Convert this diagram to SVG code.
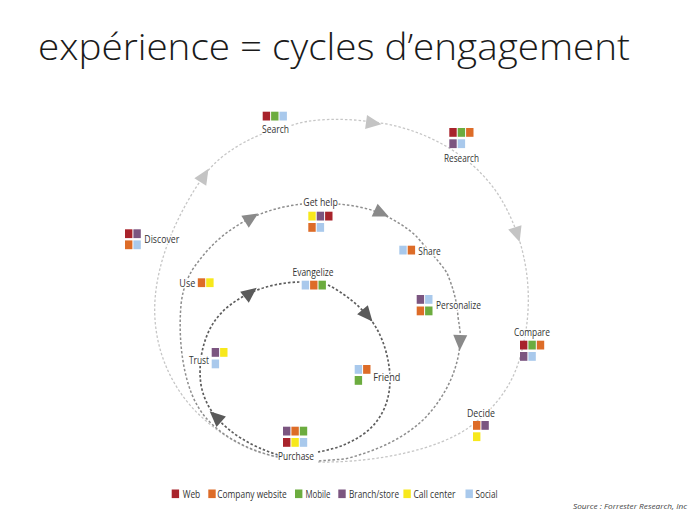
<svg xmlns="http://www.w3.org/2000/svg" xmlns:xlink="http://www.w3.org/1999/xlink" width="689" height="517" viewBox="0 0 689 517">
<style>
.title{font-family:"Open Sans","Liberation Sans",sans-serif;font-weight:300;font-size:37px;fill:#1a1a1a}
.lbl{font-family:"Open Sans","Liberation Sans",sans-serif;font-size:11px;fill:#333;stroke:#fff;stroke-width:3px;paint-order:stroke;stroke-linejoin:round}
.leg{font-family:"Open Sans","Liberation Sans",sans-serif;font-size:10.5px;fill:#333}
.src{font-family:"Open Sans","Liberation Sans",sans-serif;font-size:7.5px;font-style:italic;fill:#444}
.outer{fill:none;stroke:#c6c6c6;stroke-width:1.3;stroke-dasharray:2.5 2}
.middle{fill:none;stroke:#8e8e8e;stroke-width:1.5;stroke-dasharray:2.5 2}
.inner{fill:none;stroke:#5e5e5e;stroke-width:1.7;stroke-dasharray:2.5 2}
.ao{fill:#c4c4c4}.am{fill:#8a8a8a}.ai{fill:#5a5a5a}
.w{fill:#a8232b}.c{fill:#dd6c28}.m{fill:#6cac3f}.b{fill:#7b5580}.y{fill:#f7e81c}.s{fill:#a9c9ec}
</style>
<defs>
<path id="ah" d="M8.5,0 L-7,-7 L-7,7 Z"/>
<rect id="sq" width="7.4" height="8.8"/>
</defs>
<rect width="689" height="517" fill="#fff"/>
<text class="title" x="38" y="60" textLength="592" lengthAdjust="spacingAndGlyphs">expérience = cycles d’engagement</text>

<g id="connectors">
<path class="outer" d="M318,462 C380,463 440,448 468,428 C500,405 515,380 522,350 C532,310 530,270 517,233 C505,200 490,180 470,163 C445,142 410,126 373,122 C345,118 310,118 290,126 M262,134 C235,145 215,160 203,177 C180,210 158,255 155,300 C152,345 170,390 205,420 C230,442 255,453 278,457"/>
<path class="middle" d="M278,457 C245,450 212,432 197,405 C183,380 178,340 181,305 C183,285 190,272 198,262 C212,243 230,228 251,218 C268,210 285,206 302,204 M338,204 C352,205 367,208 380,213 C395,220 408,228 417,237 C428,250 440,262 447,273 C452,285 457,300 458,317 C460,330 461,336 460,342 C459,365 448,395 423,420 C405,437 380,450 345,459 L318,461"/>
<path class="inner" d="M328,285 C342,292 355,302 367,315 C380,330 388,350 390,375 C391,400 382,420 365,433 C350,444 335,449 318,452 M278,455 C250,446 230,433 217,418 C210,410 204,400 201,385 C198,365 202,340 214,322 C222,310 235,300 250,293 C265,286 285,282 300,282"/>
<use xlink:href="#ah" class="ao" transform="translate(373,123) rotate(8)"/>
<use xlink:href="#ah" class="ao" transform="translate(517,234) rotate(72)"/>
<use xlink:href="#ah" class="ao" transform="translate(204,176) rotate(-58)"/>
<use xlink:href="#ah" class="am" transform="translate(251,218) rotate(-32)"/>
<use xlink:href="#ah" class="am" transform="translate(381,213) rotate(25)"/>
<use xlink:href="#ah" class="am" transform="translate(460,342) rotate(92)"/>
<use xlink:href="#ah" class="ai" transform="translate(250,293) rotate(-38)"/>
<use xlink:href="#ah" class="ai" transform="translate(367,315) rotate(50)"/>
<use xlink:href="#ah" class="ai" transform="translate(216,417) rotate(-138)"/>
</g>

<g id="search">
<use xlink:href="#sq" class="w" x="262.7" y="111.7"/><use xlink:href="#sq" class="m" x="271.1" y="111.7"/><use xlink:href="#sq" class="s" x="279.5" y="111.7"/>
<text class="lbl" x="262" y="133" textLength="27" lengthAdjust="spacingAndGlyphs">Search</text>
</g>
<g id="research">
<use xlink:href="#sq" class="w" x="449.3" y="128"/><use xlink:href="#sq" class="m" x="457.7" y="128"/><use xlink:href="#sq" class="c" x="466.1" y="128"/>
<use xlink:href="#sq" class="b" x="449.3" y="139.3"/><use xlink:href="#sq" class="s" x="457.7" y="139.3"/>
<text class="lbl" x="444" y="161.5" textLength="35" lengthAdjust="spacingAndGlyphs">Research</text>
</g>
<g id="gethelp">
<text class="lbl" x="303.3" y="206" textLength="34.5" lengthAdjust="spacingAndGlyphs">Get help</text>
<use xlink:href="#sq" class="y" x="308.3" y="211.7"/><use xlink:href="#sq" class="b" x="316.7" y="211.7"/><use xlink:href="#sq" class="w" x="325.1" y="211.7"/>
<use xlink:href="#sq" class="c" x="308.3" y="223"/><use xlink:href="#sq" class="s" x="316.7" y="223"/>
</g>
<g id="discover">
<use xlink:href="#sq" class="w" x="125" y="229.3"/><use xlink:href="#sq" class="b" x="133.4" y="229.3"/>
<use xlink:href="#sq" class="c" x="125" y="240.4"/><use xlink:href="#sq" class="s" x="133.4" y="240.4"/>
<text class="lbl" x="144.3" y="242.5" textLength="35" lengthAdjust="spacingAndGlyphs">Discover</text>
</g>
<g id="share">
<use xlink:href="#sq" class="s" x="399.3" y="245.7"/><use xlink:href="#sq" class="c" x="407.7" y="245.7"/>
<text class="lbl" x="418.3" y="254.5" textLength="22.5" lengthAdjust="spacingAndGlyphs">Share</text>
</g>
<g id="use">
<text class="lbl" x="179.3" y="287" textLength="16" lengthAdjust="spacingAndGlyphs">Use</text>
<use xlink:href="#sq" class="c" x="197.8" y="278.3"/><use xlink:href="#sq" class="y" x="206.2" y="278.3"/>
</g>
<g id="evangelize">
<text class="lbl" x="292.5" y="276" textLength="41" lengthAdjust="spacingAndGlyphs">Evangelize</text>
<use xlink:href="#sq" class="s" x="301.7" y="280.7"/><use xlink:href="#sq" class="c" x="310.1" y="280.7"/><use xlink:href="#sq" class="m" x="318.5" y="280.7"/>
</g>
<g id="personalize">
<use xlink:href="#sq" class="b" x="416.7" y="295"/><use xlink:href="#sq" class="s" x="425.1" y="295"/>
<use xlink:href="#sq" class="c" x="416.7" y="306.5"/><use xlink:href="#sq" class="m" x="425.1" y="306.5"/>
<text class="lbl" x="436" y="309" textLength="45" lengthAdjust="spacingAndGlyphs">Personalize</text>
</g>
<g id="compare">
<text class="lbl" x="514" y="336" textLength="36" lengthAdjust="spacingAndGlyphs">Compare</text>
<use xlink:href="#sq" class="w" x="520" y="340.7"/><use xlink:href="#sq" class="m" x="528.4" y="340.7"/><use xlink:href="#sq" class="c" x="536.8" y="340.7"/>
<use xlink:href="#sq" class="b" x="520" y="352"/><use xlink:href="#sq" class="s" x="528.4" y="352"/>
</g>
<g id="trust">
<text class="lbl" x="189" y="364" textLength="20" lengthAdjust="spacingAndGlyphs">Trust</text>
<use xlink:href="#sq" class="b" x="211.7" y="348"/><use xlink:href="#sq" class="y" x="220.1" y="348"/>
<use xlink:href="#sq" class="s" x="211.7" y="359.5"/>
</g>
<g id="friend">
<use xlink:href="#sq" class="s" x="354.7" y="365"/><use xlink:href="#sq" class="c" x="363.1" y="365"/>
<use xlink:href="#sq" class="m" x="354.7" y="376"/>
<text class="lbl" x="373.3" y="380.5" textLength="27" lengthAdjust="spacingAndGlyphs">Friend</text>
</g>
<g id="decide">
<text class="lbl" x="467" y="416.7" textLength="28" lengthAdjust="spacingAndGlyphs">Decide</text>
<use xlink:href="#sq" class="c" x="473" y="421"/><use xlink:href="#sq" class="b" x="481.4" y="421"/>
<use xlink:href="#sq" class="y" x="473" y="432.3"/>
</g>
<g id="purchase">
<use xlink:href="#sq" class="b" x="283" y="426.7"/><use xlink:href="#sq" class="c" x="291.4" y="426.7"/><use xlink:href="#sq" class="m" x="299.8" y="426.7"/>
<use xlink:href="#sq" class="w" x="283" y="438"/><use xlink:href="#sq" class="y" x="291.4" y="438"/><use xlink:href="#sq" class="s" x="299.8" y="438"/>
<text class="lbl" x="278" y="460" textLength="36" lengthAdjust="spacingAndGlyphs">Purchase</text>
</g>

<g id="legend">
<rect class="w" x="171.7" y="489.5" width="7.4" height="8.6"/>
<text class="leg" x="182.7" y="497.8" textLength="17.5" lengthAdjust="spacingAndGlyphs">Web</text>
<rect class="c" x="208.3" y="489.5" width="7.4" height="8.6"/>
<text class="leg" x="217.3" y="497.8" textLength="69.5" lengthAdjust="spacingAndGlyphs">Company website</text>
<rect class="m" x="295" y="489.5" width="7.4" height="8.6"/>
<text class="leg" x="305.5" y="497.8" textLength="25" lengthAdjust="spacingAndGlyphs">Mobile</text>
<rect class="b" x="338.3" y="489.5" width="7.4" height="8.6"/>
<text class="leg" x="349" y="497.8" textLength="50" lengthAdjust="spacingAndGlyphs">Branch/store</text>
<rect class="y" x="403.4" y="489.5" width="7.4" height="8.6"/>
<text class="leg" x="413.5" y="497.8" textLength="42" lengthAdjust="spacingAndGlyphs">Call center</text>
<rect class="s" x="465.5" y="489.5" width="7.4" height="8.6"/>
<text class="leg" x="475.5" y="497.8" textLength="22" lengthAdjust="spacingAndGlyphs">Social</text>
</g>
<text class="src" x="573" y="509" textLength="114" lengthAdjust="spacingAndGlyphs">Source : Forrester Research, Inc</text>
</svg>
